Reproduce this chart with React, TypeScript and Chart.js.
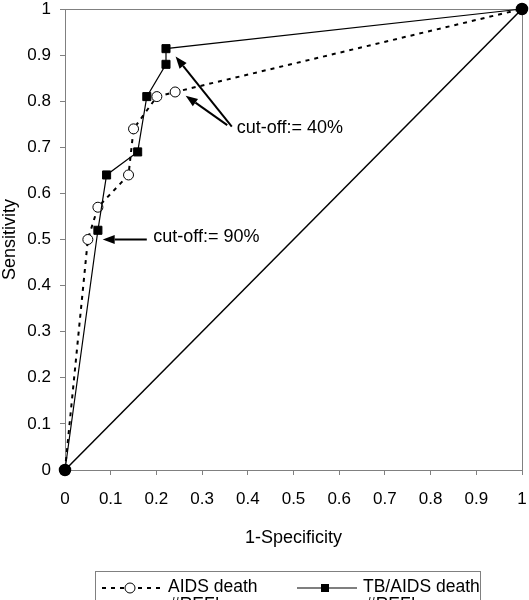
import React, { useEffect, useRef } from 'react';
import { Chart, registerables } from 'chart.js';

Chart.register(...registerables);

const FONT = '"Liberation Sans", Arial, Helvetica, sans-serif';

// AIDS death ROC points (1-specificity, sensitivity)
const aidsX = [0, 0.05, 0.072, 0.139, 0.15, 0.201, 0.241, 1];
const aidsY = [0, 0.5, 0.57, 0.64, 0.74, 0.81, 0.82, 1];

// TB/AIDS death ROC points
const tbX = [0, 0.072, 0.091, 0.159, 0.179, 0.221, 0.221, 1];
const tbY = [0, 0.52, 0.64, 0.69, 0.81, 0.88, 0.914, 1];

// Reference diagonal
const refX = [0, 1];
const refY = [0, 1];

const xTickLabels = ['0', '0.1', '0.2', '0.3', '0.4', '0.5', '0.6', '0.7', '0.8', '0.9', '1'];
const yTickLabels = ['0', '0.1', '0.2', '0.3', '0.4', '0.5', '0.6', '0.7', '0.8', '0.9', '1'];

const seriesNames = ['AIDS death', 'TB/AIDS death'];
const legendSubLabel = '#REF!';
const xTitle = '1-Specificity';
const yTitle = 'Sensitivity';

// Cut-off annotations (in data coordinates)
const cutoffLabels = ['cut-off:= 90%', 'cut-off:= 40%'];
const cutoffTextX = [0.193, 0.376];
const cutoffTextY = [0.505, 0.741];
// arrows: tail -> tip
const arrowTailX = [0.179, 0.365, 0.355];
const arrowTailY = [0.5, 0.745, 0.748];
const arrowTipX = [0.0825, 0.242, 0.264];
const arrowTipY = [0.5, 0.897, 0.812];

const axisGray = '#808080';

export default function App() {
  const ref = useRef<HTMLCanvasElement>(null);

  useEffect(() => {
    document.body.style.margin = '0';
    const canvas = ref.current;
    if (!canvas) return;
    const pts = (xs: number[], ys: number[]) => xs.map((x, i) => ({ x, y: ys[i] }));

    const framePlugin = {
      id: 'frame',
      beforeDatasetsDraw(chart: any) {
        const { ctx, chartArea } = chart;
        const { left, top, right, bottom } = chartArea;
        ctx.save();
        ctx.strokeStyle = axisGray;
        ctx.lineWidth = 1;
        ctx.beginPath();
        ctx.moveTo(Math.round(left) + 0.5, Math.round(top) + 0.5);
        ctx.lineTo(Math.round(right) + 0.5, Math.round(top) + 0.5);
        ctx.lineTo(Math.round(right) + 0.5, Math.round(bottom) + 0.5);
        ctx.stroke();
        ctx.restore();
      },
    };

    const drawArrow = (ctx: CanvasRenderingContext2D, x1: number, y1: number, x2: number, y2: number) => {
      const ang = Math.atan2(y2 - y1, x2 - x1);
      const hl = 12;
      const hw = 4.5;
      const bx = x2 - hl * Math.cos(ang);
      const by = y2 - hl * Math.sin(ang);
      ctx.beginPath();
      ctx.moveTo(x1, y1);
      ctx.lineTo(bx, by);
      ctx.stroke();
      ctx.beginPath();
      ctx.moveTo(x2, y2);
      ctx.lineTo(bx + hw * Math.sin(ang), by - hw * Math.cos(ang));
      ctx.lineTo(bx - hw * Math.sin(ang), by + hw * Math.cos(ang));
      ctx.closePath();
      ctx.fill();
    };

    const annotationPlugin = {
      id: 'cutoffs',
      afterDatasetsDraw(chart: any) {
        const { ctx } = chart;
        const xs = chart.scales.x;
        const ys = chart.scales.y;
        ctx.save();
        ctx.strokeStyle = '#000';
        ctx.fillStyle = '#000';
        ctx.lineWidth = 2;
        for (let i = 0; i < arrowTailX.length; i++) {
          drawArrow(
            ctx,
            xs.getPixelForValue(arrowTailX[i]),
            ys.getPixelForValue(arrowTailY[i]),
            xs.getPixelForValue(arrowTipX[i]),
            ys.getPixelForValue(arrowTipY[i])
          );
        }
        ctx.font = `18px ${FONT}`;
        ctx.textAlign = 'left';
        ctx.textBaseline = 'middle';
        for (let i = 0; i < cutoffLabels.length; i++) {
          ctx.fillText(cutoffLabels[i], xs.getPixelForValue(cutoffTextX[i]), ys.getPixelForValue(cutoffTextY[i]));
        }
        ctx.restore();
      },
    };

    const legendPlugin = {
      id: 'customLegend',
      afterDraw(chart: any) {
        const { ctx } = chart;
        ctx.save();
        ctx.strokeStyle = axisGray;
        ctx.lineWidth = 1;
        ctx.strokeRect(95.5, 571.5, 385, 60);
        const ly = 588;
        // AIDS sample
        ctx.strokeStyle = '#000';
        ctx.lineWidth = 2;
        ctx.setLineDash([4, 5]);
        ctx.beginPath();
        ctx.moveTo(102, ly);
        ctx.lineTo(160, ly);
        ctx.stroke();
        ctx.setLineDash([]);
        ctx.lineWidth = 1;
        ctx.fillStyle = '#fff';
        ctx.beginPath();
        ctx.arc(130, ly, 5, 0, Math.PI * 2);
        ctx.fill();
        ctx.stroke();
        // TB sample
        ctx.lineWidth = 1.2;
        ctx.beginPath();
        ctx.moveTo(297, ly);
        ctx.lineTo(357, ly);
        ctx.stroke();
        ctx.fillStyle = '#000';
        ctx.fillRect(321, ly - 4, 8, 8);
        // texts
        ctx.font = `17.5px ${FONT}`;
        ctx.textAlign = 'left';
        ctx.textBaseline = 'alphabetic';
        ctx.fillText(seriesNames[0], 168, 592);
        ctx.fillText(legendSubLabel, 170, 610);
        ctx.fillText(seriesNames[1], 363, 592);
        ctx.fillText(legendSubLabel, 366, 610);
        ctx.restore();
      },
    };

    const zeroPad = (scale: any) => {
      scale.paddingLeft = 0;
      scale.paddingRight = 0;
      scale.paddingTop = 0;
      scale.paddingBottom = 0;
    };

    const chart = new Chart(canvas, {
      type: 'scatter',
      data: {
        datasets: [
          {
            label: 'Reference',
            data: pts(refX, refY),
            showLine: true,
            borderColor: '#000',
            borderWidth: 1.5,
            pointStyle: 'circle',
            pointRadius: 5.5,
            pointBackgroundColor: '#000',
            pointBorderColor: '#000',
            clip: false,
          },
          {
            label: seriesNames[1],
            data: pts(tbX, tbY),
            showLine: true,
            borderColor: '#000',
            borderWidth: 1.2,
            pointStyle: 'rect',
            pointRadius: 5.7,
            pointBackgroundColor: '#000',
            pointBorderColor: '#000',
            pointBorderWidth: 1,
            clip: false,
          },
          {
            label: seriesNames[0],
            data: pts(aidsX, aidsY),
            showLine: true,
            borderColor: '#000',
            borderWidth: 2,
            borderDash: [4, 5],
            pointStyle: 'circle',
            pointRadius: 5,
            pointBackgroundColor: '#fff',
            pointBorderColor: '#000',
            pointBorderWidth: 1,
            clip: false,
          },
        ],
      },
      options: {
        responsive: false,
        animation: false,
        layout: { autoPadding: false, padding: { left: 0, top: 9, right: 7, bottom: 0 } },
        plugins: {
          legend: { display: false },
          tooltip: { enabled: false },
        },
        scales: {
          x: {
            type: 'linear',
            min: 0,
            max: 1,
            ticks: {
              stepSize: 0.1,
              autoSkip: false,
              maxRotation: 0,
              padding: 16,
              color: '#000',
              font: { family: FONT, size: 17, lineHeight: 1 },
              callback: (_v: any, i: number) => xTickLabels[i],
            },
            grid: { drawOnChartArea: false, drawTicks: true, tickLength: 5, color: axisGray },
            border: { color: axisGray, width: 1 },
            title: {
              display: true,
              text: xTitle,
              color: '#000',
              font: { family: FONT, size: 18 },
              padding: { top: 0, bottom: 51 },
            },
            afterFit: (scale: any) => {
              scale.height = 130;
              zeroPad(scale);
            },
          },
          y: {
            type: 'linear',
            min: 0,
            max: 1,
            ticks: {
              stepSize: 0.1,
              autoSkip: false,
              padding: 9,
              color: '#000',
              font: { family: FONT, size: 17, lineHeight: 1 },
              callback: (_v: any, i: number) => yTickLabels[i],
            },
            grid: { drawOnChartArea: false, drawTicks: true, tickLength: 5, color: axisGray },
            border: { color: axisGray, width: 1 },
            title: {
              display: true,
              text: yTitle,
              color: '#000',
              font: { family: FONT, size: 18 },
              padding: { top: -1, bottom: 0 },
            },
            afterFit: (scale: any) => {
              scale.width = 65;
              zeroPad(scale);
            },
          },
        },
      },
      plugins: [framePlugin, annotationPlugin, legendPlugin],
    } as any);

    return () => chart.destroy();
  }, []);

  return (
    <div style={{ position: 'absolute', left: 0, top: 0, width: 529, height: 600 }}>
      <canvas ref={ref} width={529} height={600} style={{ display: 'block' }} />
    </div>
  );
}
